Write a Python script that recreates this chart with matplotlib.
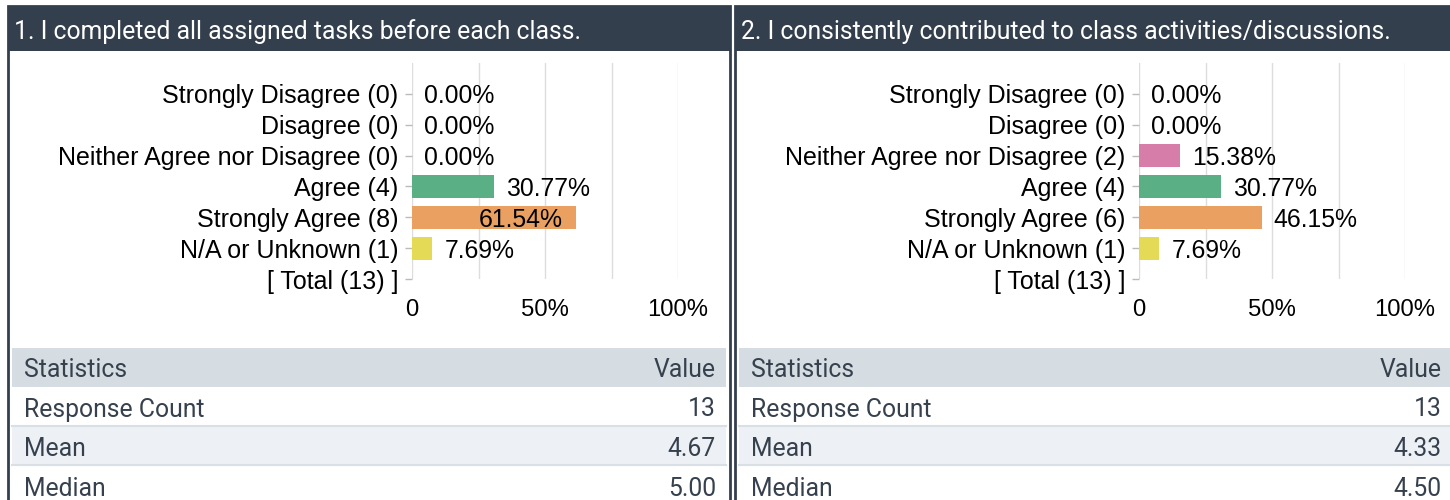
import matplotlib
matplotlib.use("Agg")
import matplotlib.pyplot as plt
from matplotlib.patches import Rectangle

# ---- data ----
categories = ["Strongly Disagree", "Disagree", "Neither Agree nor Disagree",
              "Agree", "Strongly Agree", "N/A or Unknown"]
bar_colors = ["#d77daa", "#d77daa", "#d77daa", "#5aaf84", "#e9a060", "#e4da55"]

q1_title = "1. I completed all assigned tasks before each class."
q1_counts = [0, 0, 0, 4, 8, 1]
q1_pct = [0.00, 0.00, 0.00, 30.77, 61.54, 7.69]
q1_total = 13
q1_stats = [("Response Count", "13"), ("Mean", "4.67"), ("Median", "5.00")]

q2_title = "2. I consistently contributed to class activities/discussions."
q2_counts = [0, 0, 2, 4, 6, 1]
q2_pct = [0.00, 0.00, 15.38, 30.77, 46.15, 7.69]
q2_total = 13
q2_stats = [("Response Count", "13"), ("Mean", "4.33"), ("Median", "4.50")]

W, H = 1450, 500
HEADER = "#343f4e"
TXT = "#37414e"
CHART_FONT = "Liberation Sans"
UI_FONT = "Roboto"

fig = plt.figure(figsize=(W / 100, H / 100), dpi=100)
bg = fig.add_axes([0, 0, 1, 1])
bg.set_xlim(0, W)
bg.set_ylim(H, 0)
bg.axis("off")


def px_axes(x0, y0, x1, y1):
    return fig.add_axes([x0 / W, 1 - y1 / H, (x1 - x0) / W, (y1 - y0) / H])


def draw_panel(left, right, title, counts, pct, total, stats):
    # frame + header
    bg.add_patch(Rectangle((left, 6), right - left, H, facecolor="white",
                           edgecolor=HEADER, linewidth=2))
    bg.add_patch(Rectangle((left, 6), right - left, 45, facecolor=HEADER, edgecolor="none"))
    bg.text(left + 6, 29.5, title, color="white", fontsize=17.8, family=UI_FONT,
            va="center_baseline", ha="left")

    # bar chart
    x0 = left + 404
    ax = px_axes(x0, 63, x0 + 266, 279)
    ypos = list(range(len(categories) + 1))
    ax.barh(ypos[:-1], pct, height=0.75, color=bar_colors)
    ax.set_xlim(0, 100)
    ax.set_ylim(len(categories), -1)
    labels = [f"{c} ({n})" for c, n in zip(categories, counts)] + [f"[ Total ({total}) ]"]
    ax.set_yticks(ypos)
    ax.set_yticklabels(labels, fontsize=18, family=CHART_FONT)
    ax.set_xticks([0, 25, 50, 75, 100])
    ax.set_xticklabels(["0", "", "50%", "", "100%"], fontsize=17.2, family=CHART_FONT)
    ax.tick_params(axis="y", length=5, width=1, color="#bbbbbb", pad=5)
    ax.tick_params(axis="x", length=0, pad=14.5)
    ax.grid(axis="x", color="#dddddd", linewidth=1)
    ax.set_axisbelow(True)
    for s in ax.spines.values():
        s.set_visible(False)
    for i, v in enumerate(pct):
        if v > 55:
            ax.annotate(f"{v:.2f}%", (v, i), xytext=(-9, 0), textcoords="offset points",
                        ha="right", va="center_baseline", fontsize=17.8, family=CHART_FONT)
        else:
            ax.annotate(f"{v:.2f}%", (v, i), xytext=(8.5, 0), textcoords="offset points",
                        ha="left", va="center_baseline", fontsize=17.8, family=CHART_FONT)

    # statistics table
    tl, tr = left + 4, right - 4
    rows = [("Statistics", "Value")] + stats
    fills = ["#d6dde2", "white", "#edf1f5", "white"]
    tops = [348, 387, 426, 465]
    offs = [19.5, 20, 21, 22]
    for k, ((name, val), fc, top) in enumerate(zip(rows, fills, tops)):
        bg.add_patch(Rectangle((tl, top), tr - tl, 39, facecolor=fc, edgecolor="none"))
        if k >= 2:
            bg.plot([tl, tr], [top, top], color="#d8dfe5", linewidth=1.5)
        bg.text(tl + 12, top + offs[k], name, color=TXT, fontsize=17.8, family=UI_FONT,
                va="center_baseline", ha="left")
        bg.text(tr - 10, top + offs[k], val, color=TXT, fontsize=17.8, family=UI_FONT,
                va="center_baseline", ha="right")


draw_panel(8, 730, q1_title, q1_counts, q1_pct, q1_total, q1_stats)
draw_panel(735, 1456, q2_title, q2_counts, q2_pct, q2_total, q2_stats)

fig.savefig("out.png", dpi=100)
